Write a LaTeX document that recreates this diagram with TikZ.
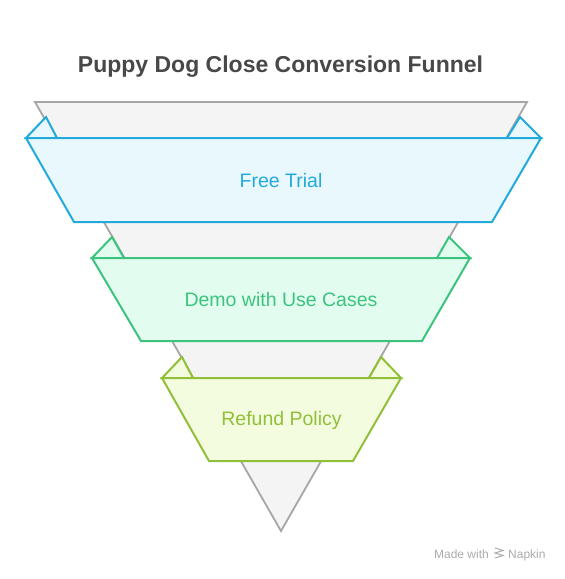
\documentclass[tikz,border=0pt]{standalone}
\usepackage{fontspec}
\setmainfont{Liberation Sans}
\begin{document}
\begin{tikzpicture}[x=1pt,y=-1pt,
  graycol/.style={draw=grayS,fill=grayF,line width=1.8pt,line join=miter},
  blueband/.style={draw=blueS,fill=blueF,line width=2pt,line join=miter},
  greenband/.style={draw=greenS,fill=greenF,line width=2pt,line join=miter},
  yellowband/.style={draw=yellowS,fill=yellowF,line width=2pt,line join=miter},
  label/.style={font=\fontsize{19.5}{22}\selectfont,inner sep=0pt}]
\definecolor{grayS}{HTML}{A6A6A6}
\definecolor{grayF}{HTML}{F4F4F4}
\definecolor{blueS}{HTML}{22AADB}
\definecolor{blueF}{HTML}{E8F8FD}
\definecolor{greenS}{HTML}{3CC47F}
\definecolor{greenF}{HTML}{E2FCEF}
\definecolor{yellowS}{HTML}{92BF3A}
\definecolor{yellowF}{HTML}{F3FCDE}
\definecolor{titleC}{HTML}{484848}
\definecolor{markC}{HTML}{ABABAB}
\useasboundingbox[fill=white] (0,0) rectangle (565,579);
% gray funnel
\draw[graycol] (35,102) -- (527,102) -- (281,531) -- cycle;
% blue band
\draw[blueband] (26,138) -- (46,117) -- (57,138) -- cycle;
\draw[blueband] (541,138) -- (520,117) -- (507,138) -- cycle;
\draw[blueband] (26,138) -- (541,138) -- (492,222) -- (74,222) -- cycle;
% green band
\draw[greenband] (92,258) -- (112,237) -- (124,258) -- cycle;
\draw[greenband] (470,258) -- (449,237) -- (437,258) -- cycle;
\draw[greenband] (92,258) -- (470,258) -- (422,341) -- (141,341) -- cycle;
% yellow band
\draw[yellowband] (162,378) -- (182,357) -- (193,378) -- cycle;
\draw[yellowband] (401,378) -- (381,357) -- (369,378) -- cycle;
\draw[yellowband] (162,378) -- (401,378) -- (353,461) -- (209,461) -- cycle;
% texts
\node[font=\fontsize{23}{26}\selectfont\bfseries,text=titleC,anchor=base] (title) at (280.5,72) {Puppy Dog Close Conversion Funnel};
\node[label,text=blueS] (t1) at (281,181) {Free Trial};
\node[label,text=greenS] (t2) at (281,300) {Demo with Use Cases};
\node[label,text=yellowS] (t3) at (281.5,420) {Refund Policy};
% watermark
\node[font=\fontsize{12}{14}\selectfont,text=markC,anchor=base east,inner sep=0pt] (mw) at (489,558) {Made with};
\node[font=\fontsize{12}{14}\selectfont,text=markC,anchor=base west,inner sep=0pt] (nap) at (508,558) {Napkin};
\draw[markC,line width=1pt] (495,548) -- (503,550.5) -- (495,553) -- (503,555.5) -- (495,558);
\end{tikzpicture}
\end{document}
